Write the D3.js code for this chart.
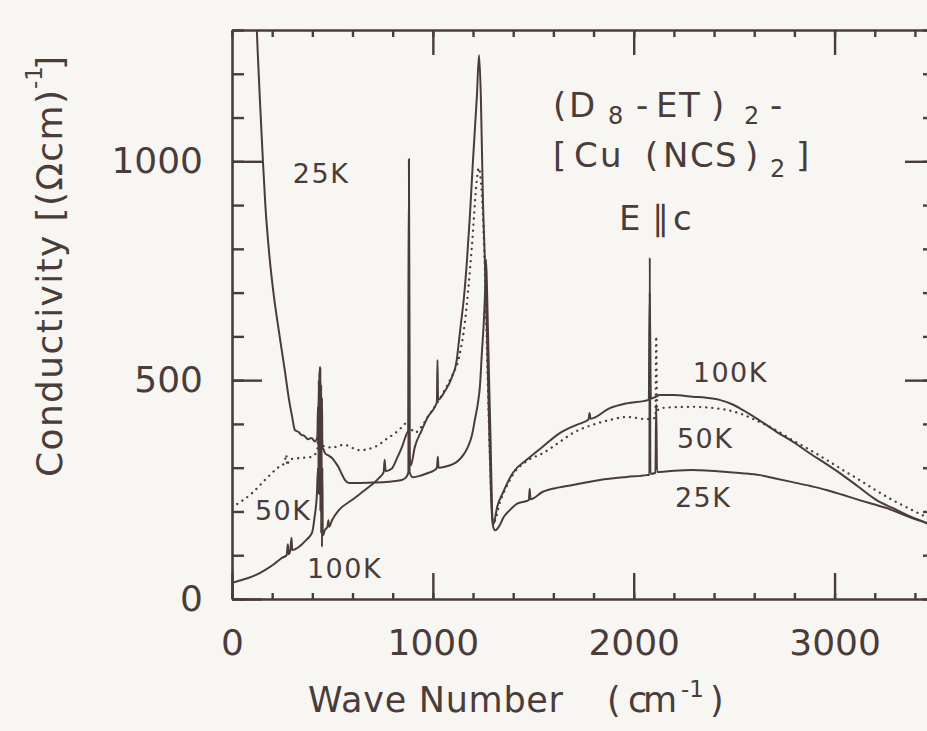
<!DOCTYPE html>
<html><head><meta charset="utf-8">
<script src="https://cdn.jsdelivr.net/npm/d3@7"></script>
<style>
html,body{margin:0;padding:0;background:#f8f6f3;}
svg{display:block;}
text{font-family:"DejaVu Sans",sans-serif;fill:#4a3c39;}
</style></head><body>
<svg id="chart" width="927" height="731"></svg>
<script>
// ---------- data ----------
const xTickLabels = [0, 1000, 2000, 3000];
const yTickLabels = [0, 500, 1000];
const xMinorTicks = d3.range(0, 3501, 200);
const yMinorTicks = d3.range(0, 1301, 100);

// 25 K (solid)
const series25K = [[120,1340],[128,1250],[140,1130],[154,1000],[166,900],[185,790],[209,690],[234,610],[262,525],[284,455],[300,415],[313,386],[330,382],[345,375],[360,373],[378,365],[395,368],[413,360],[425,370],[428,440],[430,350],[432,500],[434,360],[436,520],[438,380],[440,530],[442,360],[444,490],[446,340],[448,460],[450,345],[452,345],[463,333],[480,328],[498,322],[515,312],[532,300],[547,285],[562,272],[582,265],[620,265],[700,266],[780,268],[846,272],[870,280],[878,290],[881,1005],[884,290],[900,278],[940,282],[975,288],[1000,292],[1020,300],[1025,325],[1028,300],[1060,302],[1100,308],[1124,315],[1150,328],[1174,347],[1195,375],[1209,409],[1225,450],[1234,484],[1244,562],[1254,637],[1260,700],[1265,775],[1270,700],[1274,620],[1280,500],[1288,350],[1295,200],[1300,165],[1310,157],[1320,160],[1335,170],[1350,185],[1383,203],[1420,218],[1467,224],[1478,226],[1482,252],[1486,228],[1547,245],[1630,255],[1716,262],[1831,272],[1965,279],[2065,283],[2078,284],[2080,780],[2083,286],[2108,288],[2112,445],[2116,290],[2129,290],[2200,293],[2294,295],[2380,293],[2463,290],[2550,287],[2627,283],[2700,276],[2791,267],[2880,258],[2960,249],[3040,238],[3124,226],[3190,217],[3259,208],[3320,197],[3373,187],[3430,178],[3500,165]];

// 50 K (dotted)
const series50K = [[0,210],[100,242],[164,272],[234,302],[260,310],[270,330],[275,305],[284,318],[300,320],[340,322],[398,325],[425,340],[430,420],[433,350],[436,360],[438,530],[440,350],[444,430],[450,350],[475,348],[498,345],[530,350],[562,352],[600,345],[632,340],[697,345],[730,352],[761,363],[800,375],[831,386],[860,400],[871,404],[885,395],[910,380],[945,395],[980,420],[1010,440],[1050,470],[1090,505],[1129,550],[1159,630],[1194,804],[1219,957],[1228,985],[1238,960],[1249,880],[1262,700],[1272,520],[1282,350],[1292,220],[1300,175],[1310,180],[1330,215],[1360,250],[1400,285],[1467,315],[1547,333],[1632,359],[1700,380],[1796,398],[1881,409],[1965,416],[2065,411],[2108,414],[2112,600],[2116,430],[2129,436],[2200,438],[2294,439],[2380,437],[2463,432],[2540,422],[2600,410],[2700,388],[2791,363],[2880,340],[2960,318],[3040,295],[3124,272],[3200,250],[3289,226],[3370,207],[3458,187],[3500,178]];

// 100 K (solid)
const series100K = [[0,37],[60,45],[120,55],[164,66],[210,80],[249,94],[272,100],[278,125],[282,102],[290,110],[296,140],[300,112],[333,119],[370,135],[398,151],[412,190],[423,242],[428,300],[430,240],[432,450],[434,240],[436,500],[438,530],[440,200],[442,420],[444,150],[446,380],[448,119],[450,300],[452,145],[463,158],[475,165],[480,180],[484,165],[498,180],[532,203],[597,226],[662,249],[731,276],[755,290],[760,318],[765,292],[796,298],[820,320],[846,347],[871,379],[878,385],[881,1000],[884,330],[890,305],[910,347],[945,386],[975,416],[1010,439],[1020,450],[1023,546],[1026,455],[1060,475],[1095,507],[1119,546],[1130,590],[1140,630],[1155,690],[1169,768],[1185,880],[1199,996],[1219,1147],[1230,1243],[1239,1147],[1249,918],[1260,760],[1269,615],[1280,400],[1290,230],[1298,170],[1305,175],[1320,210],[1348,242],[1398,288],[1467,318],[1547,348],[1632,379],[1716,398],[1775,410],[1780,425],[1785,412],[1881,436],[1965,447],[2075,455],[2080,700],[2085,458],[2110,462],[2129,466],[2200,466],[2294,462],[2360,460],[2428,455],[2490,445],[2542,432],[2620,410],[2711,382],[2800,357],[2876,333],[2960,308],[3040,283],[3120,256],[3209,226],[3289,208],[3370,190],[3458,174],[3500,165]];

const curveLabels = [
  {text:"25K",  x:303,  y:950},
  {text:"50K",  x:114,  y:181},
  {text:"100K", x:373,  y:48},
  {text:"100K", x:2294, y:495},
  {text:"50K",  x:2215, y:346},
  {text:"25K",  x:2205, y:210}
];

// ---------- drawing ----------
const ink = "#4a3c39";
const svg = d3.select("#chart");
svg.append("rect").attr("width",927).attr("height",731).attr("fill","#f8f6f3");

const x = d3.scaleLinear().domain([0,3500]).range([232,935]);
const y = d3.scaleLinear().domain([0,1300]).range([599,30]);

svg.append("clipPath").attr("id","plot").append("rect")
  .attr("x",232).attr("y",30).attr("width",703).attr("height",569);

function styleAxis(g){
  g.selectAll("path.domain").attr("stroke",ink).attr("stroke-width",2.6);
  g.selectAll(".tick line").attr("stroke",ink).attr("stroke-width",2.4);
  g.selectAll(".tick text").attr("fill",ink).attr("font-size",36)
    .attr("font-family","DejaVu Sans");
}
const xMajors = [1000,2000,3000];
// bottom
svg.append("g").attr("transform","translate(0,599)")
  .call(d3.axisBottom(x).tickValues(xMinorTicks).tickSize(-6).tickSizeOuter(0).tickFormat(""))
  .call(styleAxis);
svg.append("g").attr("transform","translate(0,599)")
  .call(d3.axisBottom(x).tickValues(xTickLabels).tickSize(-26).tickSizeOuter(0).tickPadding(30).tickFormat(d3.format("d")))
  .call(styleAxis)
  .call(g=>g.select(".domain").remove());
// top
svg.append("g").attr("transform","translate(0,30)")
  .call(d3.axisTop(x).tickValues(xMinorTicks).tickSize(-7).tickSizeOuter(0).tickFormat(""))
  .call(styleAxis);
svg.append("g").attr("transform","translate(0,30)")
  .call(d3.axisTop(x).tickValues(xMajors).tickSize(-25).tickSizeOuter(0).tickFormat(""))
  .call(styleAxis).call(g=>g.select(".domain").remove());
// left
svg.append("g").attr("transform","translate(232,0)")
  .call(d3.axisLeft(y).tickValues(yMinorTicks).tickSize(-12).tickSizeOuter(0).tickFormat(""))
  .call(styleAxis);
svg.append("g").attr("transform","translate(232,0)")
  .call(d3.axisLeft(y).tickValues(yTickLabels).tickSize(-30).tickSizeOuter(0).tickPadding(29).tickFormat(d3.format("d")))
  .call(styleAxis).call(g=>g.select(".domain").remove());
// right
svg.append("g").attr("transform","translate(935,0)")
  .call(d3.axisRight(y).tickValues(yMinorTicks).tickSize(-12).tickSizeOuter(0).tickFormat(""))
  .call(styleAxis);
svg.append("g").attr("transform","translate(935,0)")
  .call(d3.axisRight(y).tickValues([500,1000]).tickSize(-30).tickSizeOuter(0).tickFormat(""))
  .call(styleAxis).call(g=>g.select(".domain").remove());

const line = d3.line().x(d=>x(d[0])).y(d=>y(d[1])).curve(d3.curveMonotoneX);
const plot = svg.append("g").attr("clip-path","url(#plot)");
plot.append("path").datum(series25K).attr("d",line)
  .attr("fill","none").attr("stroke",ink).attr("stroke-width",2).attr("stroke-linejoin","round");
plot.append("path").datum(series100K).attr("d",line)
  .attr("fill","none").attr("stroke",ink).attr("stroke-width",2).attr("stroke-linejoin","round");
plot.append("path").datum(series50K).attr("d",line)
  .attr("fill","none").attr("stroke",ink).attr("stroke-width",2.3)
  .attr("stroke-linecap","round").attr("stroke-dasharray","0.1 6");

// curve labels
svg.append("g").selectAll("text").data(curveLabels).join("text")
  .attr("x",d=>x(d.x)).attr("y",d=>y(d.y))
  .attr("font-size",27).attr("letter-spacing",1.5).text(d=>d.text);

// compound label
const title = svg.append("g").attr("font-size",34);
function glyphs(items){
  items.forEach(([t,px,py,fs])=>{
    title.append("text").attr("x",px).attr("y",py).attr("font-size",fs||34).text(t);
  });
}
glyphs([["(",553,117],["D",569,117],["8",608,124,24],["-",636,117],["E",656,117],["T",679,117],
        [")",711,117],["2",744,124,24],["-",770,117]]);
glyphs([["[",553,167],["C",574,167],["u",600,167],["(",645,167],["N",663,167],["C",690,167],
        ["S",715,167],[")",745,167],["2",770,177,24],["]",796,167]]);
glyphs([["E",619,230],["\u2225",652,230],["c",673,230]]);

// axis titles
const xt = svg.append("g").attr("font-size",35);
xt.append("text").attr("x",308).attr("y",712).attr("textLength",255).attr("lengthAdjust","spacing").text("Wave Number");
xt.append("text").attr("x",607).attr("y",712).text("(");
xt.append("text").attr("x",628).attr("y",712).attr("textLength",49).attr("lengthAdjust","spacing").text("cm");
xt.append("text").attr("x",681).attr("y",697).attr("font-size",23).text("-1");
xt.append("text").attr("x",710).attr("y",712).text(")");

const yt = svg.append("g").attr("font-size",36);
yt.append("text").attr("transform","translate(62,477) rotate(-90)")
  .attr("textLength",387).attr("lengthAdjust","spacing").text("Conductivity [(\u03A9cm)");
yt.append("text").attr("transform","translate(42,89) rotate(-90)")
  .attr("font-size",23).text("-1");
yt.append("text").attr("transform","translate(62,70) rotate(-90)").text("]");
</script>
</body></html>
